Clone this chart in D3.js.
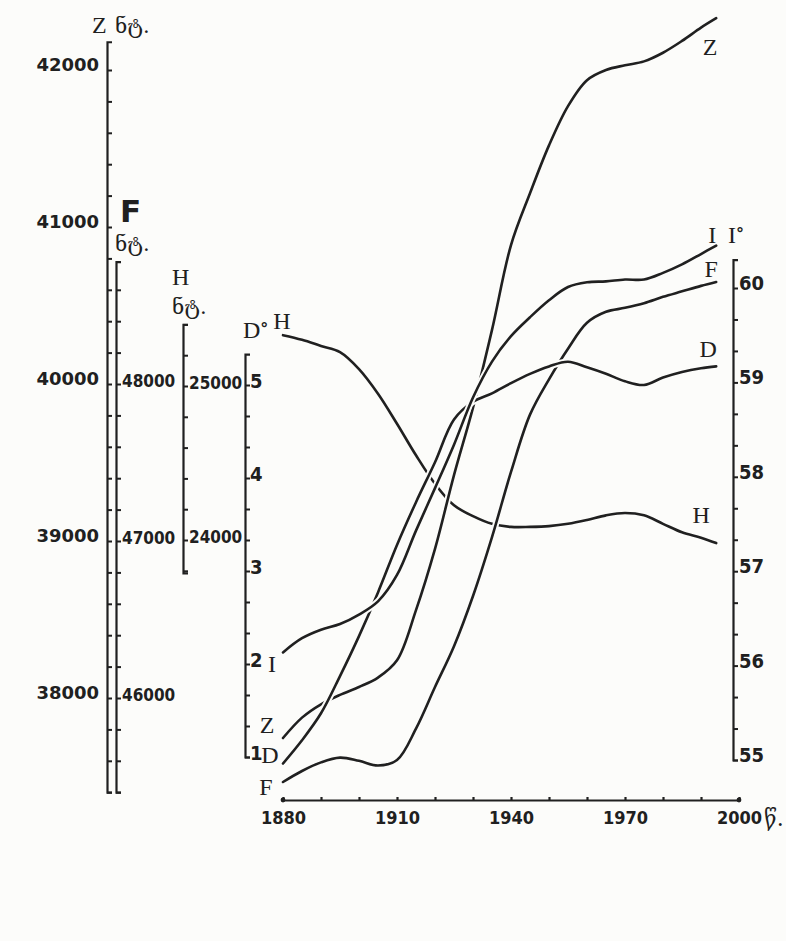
<!DOCTYPE html>
<html>
<head>
<meta charset="utf-8">
<script src="https://cdn.jsdelivr.net/npm/d3@7"></script>
<style>
  html, body { margin: 0; padding: 0; background: #fcfcfa; }
  svg { display: block; }
</style>
</head>
<body>
<svg id="chart" width="786" height="941"></svg>
<script>
// Secular variation of the geomagnetic elements, 1880–1994
const years   = [1880, 1885, 1890, 1895, 1900, 1905, 1910, 1915, 1920, 1925, 1930, 1935,
                 1940, 1945, 1950, 1955, 1960, 1965, 1970, 1975, 1980, 1985, 1990, 1994];
// vertical component Z, nT
const zValues = [37745, 37875, 37960, 38020, 38070, 38130, 38240, 38560, 38950, 39420, 39850, 40345,
                 40885, 41215, 41520, 41770, 41935, 42000, 42030, 42055, 42110, 42185, 42270, 42330];
// total intensity F, nT
const fValues = [45465, 45535, 45590, 45620, 45600, 45570, 45605, 45805, 46070, 46330, 46650, 47025,
                 47440, 47805, 48030, 48225, 48390, 48460, 48485, 48515, 48555, 48590, 48625, 48650];
// horizontal component H, nT
const hValues = [25330, 25300, 25260, 25220, 25110, 24950, 24755, 24550, 24365, 24225, 24155, 24105,
                 24085, 24085, 24090, 24105, 24130, 24160, 24175, 24160, 24105, 24050, 24015, 23980];
// declination D, degrees
const dValues = [0.93, 1.18, 1.47, 1.87, 2.30, 2.77, 3.28, 3.74, 4.17, 4.63, 4.82, 4.91,
                 5.02, 5.12, 5.20, 5.25, 5.19, 5.12, 5.04, 5.00, 5.08, 5.14, 5.18, 5.20];
// inclination I, degrees
const iValues = [56.14, 56.29, 56.38, 56.44, 56.54, 56.68, 56.96, 57.43, 57.88, 58.34, 58.84, 59.22,
                 59.49, 59.69, 59.87, 60.01, 60.06, 60.07, 60.09, 60.09, 60.16, 60.25, 60.36, 60.45];

// axis extents and labelled ticks
const zExtent = [37400, 42180];
const fExtent = [45400, 48780];
const hExtent = [23786, 25400];
const dExtent = [1, 5.333];
const iExtent = [55, 60.3];
const zTickLabels = [38000, 39000, 40000, 41000, 42000];
const fTickLabels = [46000, 47000, 48000];
const hTickLabels = [24000, 25000];
const dTickLabels = [1, 2, 3, 4, 5];
const iTickLabels = [55, 56, 57, 58, 59, 60];
const yearTickLabels = [1880, 1910, 1940, 1970, 2000];
const unitNT = "ნტ.";
const unitYear = "წ.";

const svg = d3.select("#chart");
const ink = "#202020";

// scales
const x  = d3.scaleLinear().domain([1880, 2000]).range([283, 739]);
const zY = d3.scaleLinear().domain([38000, 42000]).range([698, 70]);
const fY = d3.scaleLinear().domain([46000, 48000]).range([698, 384]);
const hY = d3.scaleLinear().domain([24000, 25000]).range([540, 386]);
const dY = d3.scaleLinear().domain([1, 5]).range([757, 385]);
const iY = d3.scaleLinear().domain([55, 60]).range([760, 288]);

const xAxisY = 800;
const axisX = { z: 107, f: 116, h: 183, d: 245, i: 733 };

const sansBold = "'DejaVu Sans', sans-serif";
const sansCond = "'DejaVu Sans Condensed', 'DejaVu Sans', sans-serif";
const serif = "'Liberation Serif', 'DejaVu Serif', serif";
const geo = "'DejaVu Serif', 'DejaVu Sans', serif";

// vertical scale bar: bracket-ended line with short ticks to the right
function scaleBar(scale, extent, step, base, labels, xPos, font, size, labelDy, pad) {
  const s = scale.copy().domain(extent).range(extent.map(scale));
  const ticks = [];
  for (let v = base; v <= extent[1] + 1e-9; v += step) if (v >= extent[0] - 1e-9) ticks.push(v);
  for (let v = base - step; v >= extent[0] - 1e-9; v -= step) ticks.push(v);
  const isLabel = v => labels.some(l => Math.abs(l - v) < 1e-6);
  const axis = d3.axisRight(s)
    .tickValues(ticks)
    .tickSizeInner(5).tickSizeOuter(5).tickPadding(pad)
    .tickFormat(v => (font && isLabel(v)) ? String(Math.round(v)) : "");
  const g = svg.append("g").attr("transform", `translate(${xPos},0)`).call(axis);
  g.select(".domain").attr("stroke", ink).attr("stroke-width", 2.2).attr("fill", "none");
  g.selectAll(".tick line").attr("stroke", ink).attr("stroke-width", 2);
  g.selectAll(".tick text")
    .attr("fill", ink).attr("font-family", font).attr("font-weight", "bold")
    .attr("font-size", size).attr("font-stretch", "condensed").attr("y", labelDy);
  return g;
}

scaleBar(zY, zExtent, 200, 42000, zTickLabels, axisX.z, null, 0, 0, 1);
scaleBar(fY, fExtent, 200, 48000, fTickLabels, axisX.f, sansCond, 17, -3, 1);
scaleBar(hY, hExtent, 200, 25000, hTickLabels, axisX.h, sansCond, 17, -3, 1);
scaleBar(dY, dExtent, 1 / 3, 5, dTickLabels, axisX.d, sansCond, 20, -4, 0);
scaleBar(iY, iExtent, 1 / 3, 60, iTickLabels, axisX.i, sansCond, 20, -5, 1);

// Z labels sit on the left of their bar
svg.append("g").selectAll("text").data(zTickLabels).join("text")
  .attr("x", axisX.z - 8).attr("y", d => zY(d) + 1)
  .attr("text-anchor", "end")
  .attr("font-family", sansBold).attr("font-weight", "bold").attr("font-size", 18)
  .attr("fill", ink).text(d => d);

// bar titles
svg.append("text").attr("x", axisX.z - 15).attr("y", 33)
  .attr("font-family", serif).attr("font-size", 24).attr("fill", ink).text("Z");
svg.append("text").attr("x", axisX.z + 8).attr("y", 33)
  .attr("font-family", geo).attr("font-size", 21).attr("fill", ink).text(unitNT);

svg.append("text").attr("x", axisX.f + 4).attr("y", 222)
  .attr("font-family", sansBold).attr("font-weight", "bold").attr("font-size", 31)
  .attr("fill", ink).text("F");
svg.append("text").attr("x", axisX.f - 1).attr("y", 251)
  .attr("font-family", geo).attr("font-size", 21).attr("fill", ink).text(unitNT);

svg.append("text").attr("x", axisX.h - 11).attr("y", 285)
  .attr("font-family", serif).attr("font-size", 24).attr("fill", ink).text("H");
svg.append("text").attr("x", axisX.h - 11).attr("y", 314)
  .attr("font-family", geo).attr("font-size", 21).attr("fill", ink).text(unitNT);

const dTitle = svg.append("text").attr("x", axisX.d - 2).attr("y", 338)
  .attr("font-family", serif).attr("font-size", 24).attr("fill", ink).text("D");
dTitle.append("tspan").attr("font-family", sansBold).attr("font-weight", "bold")
  .attr("font-size", 16).attr("dy", -4).text("°");

const iTitle = svg.append("text").attr("x", axisX.i - 5).attr("y", 243)
  .attr("font-family", serif).attr("font-size", 24).attr("fill", ink).text("I");
iTitle.append("tspan").attr("font-family", sansBold).attr("font-weight", "bold")
  .attr("font-size", 16).attr("dy", -4).text("°");

// time axis
const xAxis = d3.axisBottom(x)
  .tickValues(d3.range(1880, 2001, 10))
  .tickSizeInner(-3).tickSizeOuter(0).tickPadding(11)
  .tickFormat(v => yearTickLabels.includes(v) ? String(v) : "");
const gx = svg.append("g").attr("transform", `translate(0,${xAxisY})`).call(xAxis);
gx.select(".domain").attr("stroke", ink).attr("stroke-width", 2);
gx.selectAll(".tick line").attr("stroke", ink).attr("stroke-width", 2.2);
gx.selectAll(".tick text")
  .attr("fill", ink).attr("font-family", sansCond).attr("font-weight", "bold")
  .attr("font-size", 18).attr("font-stretch", "condensed");
gx.selectAll("circle.end").data(x.domain()).join("circle")
  .attr("class", "end").attr("cx", d => x(d)).attr("cy", 0).attr("r", 2.4).attr("fill", ink);
svg.append("text").attr("x", x(2000) + 25).attr("y", xAxisY + 26)
  .attr("font-family", geo).attr("font-size", 22).attr("fill", ink).text(unitYear);

// element curves, drawn with a paper-coloured halo so crossings show a break
const series = [
  { name: "H", values: hValues, y: hY, start: [-1, -6],  end: [-15, -20] },
  { name: "F", values: fValues, y: fY, start: [-17, 13], end: [-5, -5] },
  { name: "Z", values: zValues, y: zY, start: [-16, -5], end: [-6, 37] },
  { name: "D", values: dValues, y: dY, start: [-13, -1], end: [-8, -9] },
  { name: "I", values: iValues, y: iY, start: [-11, 20], end: [-4, -3] }
];

const curves = svg.append("g").attr("fill", "none").attr("stroke-linecap", "round");
series.forEach(s => {
  const pts = years.map((yr, k) => [yr, s.values[k]]);
  const line = d3.line().x(d => x(d[0])).y(d => s.y(d[1])).curve(d3.curveCatmullRom.alpha(0.5));
  curves.append("path").attr("d", line(pts)).attr("stroke", "#fcfcfa").attr("stroke-width", 6.5);
  curves.append("path").attr("d", line(pts)).attr("stroke", ink).attr("stroke-width", 2.6);
});

// curve names at both ends
const names = svg.append("g").attr("font-family", serif).attr("font-size", 24)
  .attr("fill", ink).attr("text-anchor", "middle");
series.forEach(s => {
  const n = years.length - 1;
  names.append("text")
    .attr("x", x(years[0]) + s.start[0]).attr("y", s.y(s.values[0]) + s.start[1]).text(s.name);
  names.append("text")
    .attr("x", x(years[n]) + s.end[0]).attr("y", s.y(s.values[n]) + s.end[1]).text(s.name);
});
</script>
</body>
</html>
